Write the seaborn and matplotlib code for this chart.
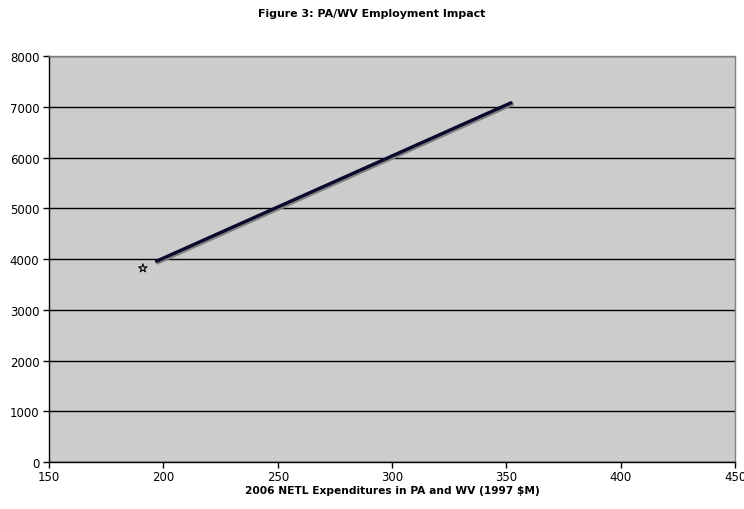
import numpy as np
import pandas as pd
import matplotlib
matplotlib.use("Agg")
import matplotlib.pyplot as plt
import seaborn as sns

# data
line_x = [197, 352]
line_y = [3960, 7080]
star_x = [191]
star_y = [3820]

x_ticks = [150, 200, 250, 300, 350, 400, 450]
y_ticks = [0, 1000, 2000, 3000, 4000, 5000, 6000, 7000, 8000]

sns.set_style("white")
plt.rcParams['font.family'] = ['DejaVu Sans']
plt.rcParams['text.color'] = "black"
plt.rcParams['xtick.color'] = "black"
plt.rcParams['ytick.color'] = "black"
plt.rcParams['axes.labelcolor'] = "black"

fig = plt.figure(figsize=(7.44, 5.10), dpi=100)
ax = fig.add_axes([0.066, 0.092, 0.922, 0.796])
ax.set_facecolor("#CCCCCC")

line_df = pd.DataFrame({"x": line_x, "y": line_y})
star_df = pd.DataFrame({"x": star_x, "y": star_y})

# grey shadow under the line
sns.lineplot(data=line_df, x="x", y="y", ax=ax, color="#808080", linewidth=2.8,
             zorder=3)
ax.lines[-1].set_transform(ax.transData + matplotlib.transforms.ScaledTranslation(
    1 / 100, -1.5 / 100, fig.dpi_scale_trans))
sns.lineplot(data=line_df, x="x", y="y", ax=ax, color="#0A0A2E", linewidth=2.4,
             zorder=4)
sns.scatterplot(data=star_df, x="x", y="y", ax=ax, marker="*", s=40,
                facecolor="none", edgecolor="black", linewidth=0.8, zorder=5)

ax.set_xlim(150, 450)
ax.set_ylim(0, 8000)
ax.set_xticks(x_ticks)
ax.set_yticks(y_ticks)
ax.yaxis.grid(True, color="black", linewidth=1)
ax.xaxis.grid(False)
ax.set_axisbelow(True)

for side in ["top", "right"]:
    ax.spines[side].set_color("#808080")
    ax.spines[side].set_linewidth(1)
for side in ["left", "bottom"]:
    ax.spines[side].set_color("black")
    ax.spines[side].set_linewidth(1)

ax.tick_params(axis="both", direction="out", length=4, width=1, color="black",
               labelsize=8.5, pad=3, left=True, bottom=True)
ax.tick_params(axis="x", pad=2)

ax.set_xlabel("2006 NETL Expenditures in PA and WV (1997 $M)", fontsize=7.7,
              fontweight="bold", labelpad=1)
ax.set_ylabel("")
fig.suptitle("Figure 3: PA/WV Employment Impact", fontsize=7.9,
             fontweight="bold", y=0.982)

fig.savefig("out.png", dpi=100)
